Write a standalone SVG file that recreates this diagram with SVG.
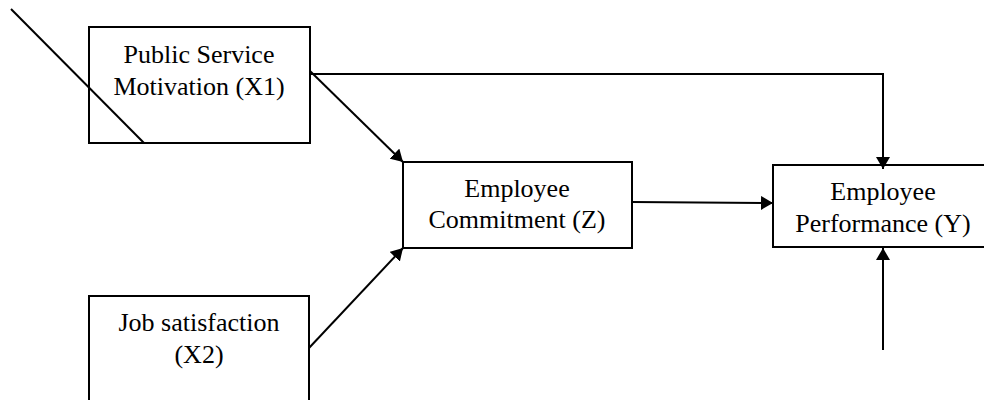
<svg xmlns="http://www.w3.org/2000/svg" width="984" height="400" viewBox="0 0 984 400">
<defs>
<style>
.box{fill:#fff;stroke:#000;stroke-width:2}
.t{font-family:"Liberation Serif","Times New Roman",serif;font-size:26px;fill:#000;text-anchor:middle}
.c{fill:none;stroke:#000;stroke-width:2}
</style>
<marker id="ah" viewBox="0 0 12 14" refX="12" refY="7" markerWidth="12" markerHeight="14" markerUnits="userSpaceOnUse" orient="auto">
<path d="M0,0 L12,7 L0,14 Z" fill="#000"/>
</marker>
</defs>
<g id="x1">
<rect class="box" x="89" y="27" width="221" height="116"/>
<text class="t" x="199" y="63">Public Service</text>
<text class="t" x="199" y="95">Motivation (X1)</text>
</g>
<g id="x2">
<rect class="box" x="89" y="296" width="220" height="120"/>
<text class="t" x="199" y="331">Job satisfaction</text>
<text class="t" x="199" y="363">(X2)</text>
</g>
<g id="z">
<rect class="box" x="403" y="162" width="229" height="86"/>
<text class="t" x="517" y="197">Employee</text>
<text class="t" x="517" y="228">Commitment (Z)</text>
</g>
<g id="y">
<rect class="box" x="773" y="165" width="220" height="82"/>
<text class="t" x="883" y="200">Employee</text>
<text class="t" x="883" y="232">Performance (Y)</text>
</g>
<g id="connectors">
<line class="c" x1="11" y1="9" x2="144" y2="143"/>
<path class="c" d="M310,74 H883 V169" marker-end="url(#ah)"/>
<line class="c" x1="310" y1="71" x2="403" y2="162" marker-end="url(#ah)"/>
<line class="c" x1="309" y1="348" x2="403" y2="248" marker-end="url(#ah)"/>
<line class="c" x1="632" y1="202" x2="773" y2="203" marker-end="url(#ah)"/>
<line class="c" x1="883" y1="350" x2="883" y2="248" marker-end="url(#ah)"/>
</g>
</svg>
